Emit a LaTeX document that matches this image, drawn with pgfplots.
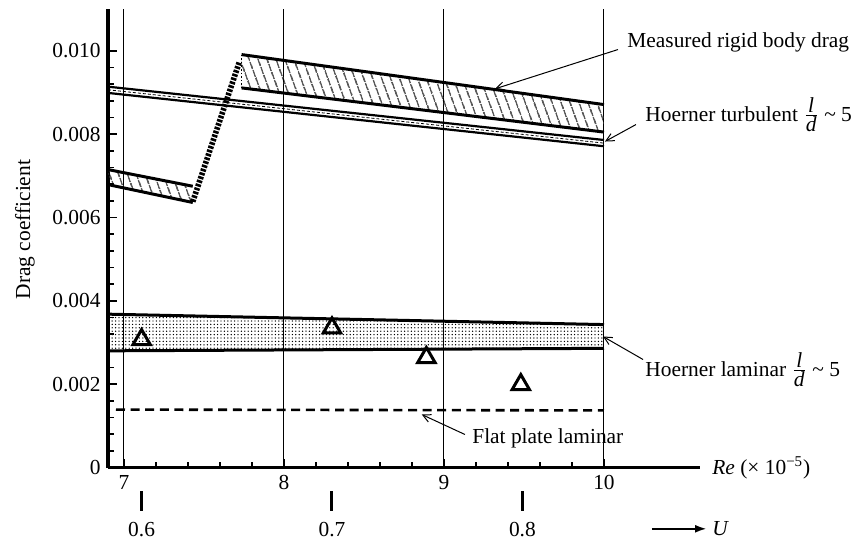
\documentclass[border=0pt]{standalone}
\usepackage{fontspec}
\setmainfont{Liberation Serif}
\usepackage{pgfplots}
\pgfplotsset{compat=1.18}
\usetikzlibrary{patterns.meta,arrows.meta}

\begin{document}
\fontsize{10.7}{12.8}\selectfont
\begin{tikzpicture}
\useasboundingbox (-54pt,-37.25pt) rectangle (371.5pt,233.75pt);
\begin{axis}[
  scale only axis, width=296pt, height=229.17pt,
  xmin=6.9, xmax=10.6, ymin=0, ymax=0.011,
  axis x line=bottom, axis y line=left,
  axis line style={line width=1.6pt, -},
  clip=false,
  xtick={7,8,9,10}, xticklabels={7,8,9,10},
  ytick={0,0.002,0.004,0.006,0.008,0.010},
  yticklabels={0,0.002,0.004,0.006,0.008,0.010},
  scaled y ticks=false, scaled x ticks=false,
  minor x tick num=4, minor y tick num=4,
  tick align=inside,
  major tick length=4.5pt, minor tick length=3pt,
  every tick/.style={line width=0.75pt, black},
  xmajorgrids, grid style={line width=0.5pt, black},
  /pgf/number format/assume math mode=true,
]

% hatched band: measured drag, laminar regime
\addplot[draw=none, pattern={Lines[angle=110, distance=4pt, line width=0.65pt]}]
  coordinates {(6.9,0.00715) (7.43,0.00675) (7.43,0.00636) (6.9,0.00679)} -- cycle;
\addplot[line width=1.5pt] coordinates {(6.9,0.00715) (7.43,0.00675)};
\addplot[line width=1.5pt] coordinates {(6.9,0.00679) (7.43,0.00636)};

% hatched band: measured drag, turbulent regime
\addplot[draw=none, pattern={Lines[angle=110, distance=4pt, line width=0.65pt]}]
  coordinates {(7.735,0.00991) (10,0.00871) (10,0.00805) (7.735,0.00911)} -- cycle;
\addplot[line width=1.5pt] coordinates {(7.735,0.00991) (10,0.00871)};
\addplot[line width=1.5pt] coordinates {(7.735,0.00911) (10,0.00805)};
\addplot[line width=0.8pt, densely dotted] coordinates {(7.735,0.00991) (7.735,0.00911)};

% transition between the two regimes
\addplot[line width=2.8pt, dash pattern=on 1.3pt off 0.7pt] coordinates {(7.43,0.00638) (7.72,0.00972)};

% Hoerner turbulent, l/d ~ 5
\addplot[line width=1.1pt] coordinates {(6.9,0.00914) (10,0.00786)};
\addplot[line width=1.1pt] coordinates {(6.9,0.00899) (10,0.00771)};
\addplot[line width=0.4pt, dash pattern=on 1.5pt off 1pt] coordinates {(6.9,0.009065) (10,0.007785)};

% Hoerner laminar, l/d ~ 5
\addplot[draw=none, pattern={Dots[distance=1.7pt, radius=0.36pt]}]
  coordinates {(6.9,0.00368) (10,0.00343) (10,0.00286) (6.9,0.00280)} -- cycle;
\addplot[line width=1.5pt] coordinates {(6.9,0.00368) (10,0.00343)};
\addplot[line width=1.5pt] coordinates {(6.9,0.00280) (10,0.00286)};

% flat plate laminar
\addplot[line width=1.3pt, dash pattern=on 4.5pt off 2.8pt] coordinates {(6.95,0.00139) (10,0.00137)};

% measured points
\addplot[only marks, mark=triangle, mark size=5pt, mark options={line width=1.5pt, black}]
  coordinates {(7.11,0.00307) (8.30,0.00335) (8.89,0.00264) (9.48,0.00199)};

% annotations
\draw[line width=0.5pt, -{Straight Barb[length=4pt,width=4pt]}] (axis cs:10.0875,0.010031) -- (axis cs:9.319,0.009088);
\node[anchor=base west, inner sep=0] at (axis cs:10.144,0.010072) {Measured rigid body drag};
\draw[line width=0.5pt, -{Straight Barb[length=4pt,width=4pt]}] (axis cs:10.2,0.008231) -- (axis cs:10.006,0.007823);
\node[anchor=base west, inner sep=0] at (axis cs:10.256,0.008311) {Hoerner turbulent \(\frac{\textit{l}}{\textit{d}}\) \textasciitilde\ 5};
\draw[line width=0.5pt, -{Straight Barb[length=4pt,width=4pt]}] (axis cs:10.244,0.002592) -- (axis cs:9.994,0.003144);
\node[anchor=base west, inner sep=0] at (axis cs:10.256,0.002191) {Hoerner laminar \(\frac{\textit{l}}{\textit{d}}\) \textasciitilde\ 5};
\draw[line width=0.5pt, -{Straight Barb[length=4pt,width=4pt]}] (axis cs:9.131,0.000792) -- (axis cs:8.861,0.001272);
\node[anchor=base west, inner sep=0] at (axis cs:9.175,0.000576) {Flat plate laminar};

% axis titles
\node[anchor=base west, inner sep=0] at (axis cs:10.675,-0.000168) {\textit{Re} (\texttimes\ 10\textsuperscript{−5})};
\node[rotate=90] at (axis cs:6.381,0.005712) {Drag coefficient};

% velocity scale
\addplot[line width=1.5pt] coordinates {(7.11,-0.00057) (7.11,-0.00105)};
\addplot[line width=1.5pt] coordinates {(8.30,-0.00057) (8.30,-0.00105)};
\addplot[line width=1.5pt] coordinates {(9.49,-0.00057) (9.49,-0.00105)};
\node at (axis cs:7.11,-0.001488) {0.6};
\node at (axis cs:8.30,-0.001488) {0.7};
\node at (axis cs:9.49,-0.001488) {0.8};
\draw[line width=1.2pt, -{Latex[length=6pt,width=4pt]}] (axis cs:10.3,-0.001471) -- (axis cs:10.644,-0.001471);
\node[anchor=west, inner sep=0] at (axis cs:10.675,-0.00147) {\textit{U}};
\end{axis}
\end{tikzpicture}
\end{document}
